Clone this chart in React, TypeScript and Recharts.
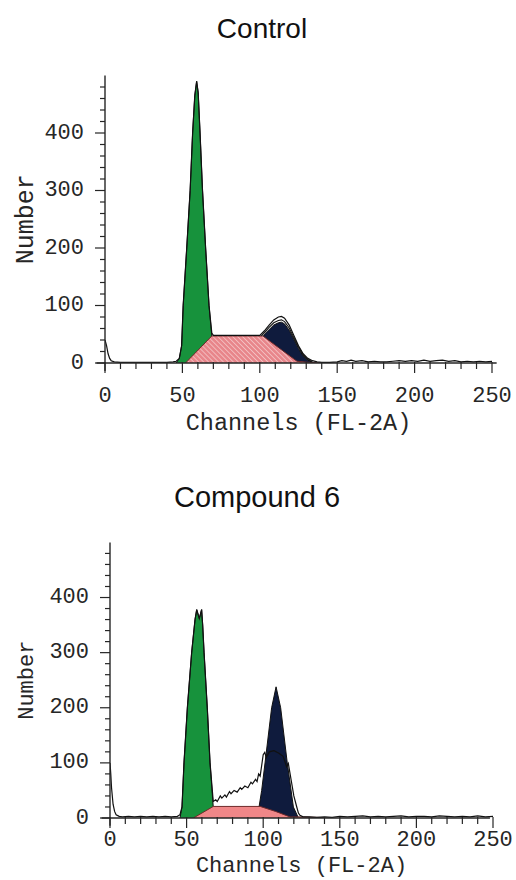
import { ComposedChart, Area, Line, XAxis, YAxis, ReferenceLine } from 'recharts'

// [channel, count] pairs
const controlHist = [
  [0, 40], [1, 30], [2, 16], [3, 8], [4, 4], [6, 2], [10, 1], [15, 1], [20, 1], [25, 1], [30, 1], [35, 1], [40, 1], [44, 2], [46, 3], [48, 8],
  [49.5, 30], [50.5, 100], [52.8, 200], [55, 300], [56.6, 400], [58, 465], [59.2, 490], [60.2, 470], [61.4, 400], [63, 300], [65, 200], [67.2, 100], [69, 52],
  [70, 48], [75, 48], [80, 48], [85, 48], [90, 48], [95, 48], [100, 48],
  [103, 56], [106, 66], [109, 75], [112, 80], [114, 81], [116, 78], [119, 66], [122, 48], [125, 30], [128, 16], [131, 8], [134, 4], [137, 2], [140, 1], [145, 1],
  [150, 2], [153, 4], [156, 3], [159, 5], [162, 3], [166, 4], [170, 2], [174, 3], [178, 2], [182, 2], [186, 3], [190, 4], [194, 3], [198, 4],
  [202, 3], [206, 5], [210, 3], [214, 4], [218, 5], [222, 3], [226, 4], [230, 2], [234, 3], [238, 2], [242, 3], [246, 2], [250, 3],
]
const controlFit = [
  [101, 47], [103, 53], [106, 62], [109, 70], [112, 74], [114, 75], [116, 72], [119, 61], [122, 44], [125, 28], [128, 14], [131, 6], [134, 2],
]
const controlG1 = [
  [46, 0], [48, 8], [49.5, 30], [50.5, 100], [52.8, 200], [55, 300], [56.6, 400], [58, 465], [59.2, 490], [60.2, 470],
  [61.4, 400], [63, 300], [65, 200], [67.2, 100], [69, 47], [71, 10], [72, 0],
]
const controlS = [[52, 0], [69, 47], [102, 47], [113, 25], [124, 3], [132, 1], [142, 0]]
const controlG2 = [
  [101, 40], [103, 50], [106, 58], [109, 66], [112, 70], [114, 71], [116, 68], [119, 57], [122, 41], [125, 25], [128, 12], [131, 5], [134, 1], [136, 0],
]

const c6Hist = [
  [0, 100], [0.5, 80], [1, 55], [2, 25], [3, 12], [4, 6], [6, 3], [8, 2], [12, 3], [16, 2], [20, 3], [24, 2], [28, 3], [32, 2], [36, 3], [40, 2], [44, 3],
  [45.7, 6], [47, 20], [48.3, 100], [50.5, 200], [53.3, 300], [55.5, 360], [56.6, 378], [58.3, 362], [59.8, 378], [60.5, 350], [61.4, 300], [63.5, 200], [65.3, 100], [67.4, 30],
  [69, 33], [70, 30], [72, 40], [73, 36], [75, 42], [76, 38], [78, 48], [79, 44], [81, 50], [83, 47], [85, 55], [86, 52], [88, 58], [90, 55], [92, 65], [93, 62],
  [95, 70], [96, 66], [97, 80], [98, 76], [99, 95], [100, 115], [101, 119], [102, 110], [104, 120], [107, 122], [110, 118], [113, 112],
  [115.3, 93], [116.4, 99], [117.5, 81], [118.6, 63], [120, 40], [121.9, 20], [123, 9], [124, 5], [126, 2], [130, 2], [135, 1], [140, 2], [145, 1],
  [150, 3], [155, 2], [160, 3], [165, 4], [170, 2], [175, 3], [180, 2], [185, 3], [190, 4], [195, 2], [200, 3], [205, 3], [210, 2], [215, 4],
  [220, 3], [225, 2], [230, 3], [235, 2], [240, 4], [245, 2], [250, 3],
]
const c6G1 = [
  [45.7, 0], [47, 20], [48.3, 100], [50.5, 200], [53.3, 300], [55.5, 360], [56.6, 378], [58.3, 362], [59.8, 378], [60.5, 350],
  [61.4, 300], [63.5, 200], [65.3, 100], [67.4, 20], [69, 5], [70, 0],
]
const c6S = [[54.4, 0], [67.4, 21], [98, 21], [108, 12], [117.5, 2], [125, 2], [137, 1], [140, 0]]
const c6G2 = [[97, 15], [99, 50], [101.2, 100], [105.5, 200], [108.4, 238], [111.4, 200], [115.7, 100], [119.7, 20], [123, 0]]

const xTicks = [0, 10, 20, 30, 40, 50, 60, 70, 80, 90, 100, 110, 120, 130, 140, 150, 160, 170, 180, 190, 200, 210, 220, 230, 240, 250]
const yTicks = [0, 20, 40, 60, 80, 100, 120, 140, 160, 180, 200, 220, 240, 260, 280, 300, 320, 340, 360, 380, 400, 420, 440, 460, 480]

const mono = '"Liberation Mono", "Courier New", monospace'
const ink = '#262626'

function mergeSeries(series: Record<string, number[][]>) {
  const rows = new Map<number, any>()
  for (const [key, pts] of Object.entries(series)) {
    for (const [ch, n] of pts) {
      const row = rows.get(ch) ?? { ch }
      row[key] = n
      rows.set(ch, row)
    }
  }
  return [...rows.values()].sort((a, b) => a.ch - b.ch)
}

const YTick = (p: any) => {
  const v = p.payload.value
  const major = v % 100 === 0
  return (
    <g>
      <line x1={p.x - (major ? 10 : 5)} x2={p.x} y1={p.y} y2={p.y} stroke={ink} strokeWidth={1.2} />
      {major && (
        <text x={p.x - 21} y={p.y} textAnchor="end" dominantBaseline="central" fontFamily={mono} fontSize={22} fill={ink}>
          {v}
        </text>
      )}
    </g>
  )
}

const makeXTick = (gap: number) => (p: any) => {
  const v = p.payload.value
  const major = v % 50 === 0
  return (
    <g>
      <line x1={p.x} x2={p.x} y1={p.y - 1} y2={p.y + (major ? 10 : 6)} stroke={ink} strokeWidth={1.2} />
      {major && (
        <text x={p.x} y={p.y + gap} textAnchor="middle" dominantBaseline="central" fontFamily={mono} fontSize={22} fill={ink}>
          {v}
        </text>
      )}
    </g>
  )
}

interface HistProps {
  rows: any[]
  hatched: boolean
  height: number
  top: number
  right: number
  bottom: number
  yWidth: number
  xHeight: number
  tickGap: number
  yTitleOffset: number
  yTitleSize: number
  xTitleOffset: number
  xTitleSize: number
  axisEnd: number
}

function Histogram(h: HistProps) {
  return (
    <ComposedChart width={516} height={h.height} data={h.rows} margin={{ top: h.top, right: h.right, bottom: h.bottom, left: 4 }}>
      <defs>
        <pattern id="hatch" width="3.5" height="3.5" patternUnits="userSpaceOnUse" patternTransform="rotate(-45)">
          <rect width="3.5" height="3.5" fill="#e8868b" />
          <line x1="0" y1="0" x2="0" y2="3.5" stroke="#fbe3e3" strokeWidth="1.1" />
        </pattern>
      </defs>
      <XAxis
        type="number"
        dataKey="ch"
        domain={[0, 250]}
        ticks={xTicks}
        interval={0}
        allowDataOverflow
        axisLine={false}
        tickLine={false}
        tickSize={0}
        tickMargin={0}
        height={h.xHeight}
        tick={makeXTick(h.tickGap)}
        label={{ value: 'Channels (FL-2A)', position: 'insideBottom', offset: h.xTitleOffset, fill: ink, fontSize: h.xTitleSize, fontFamily: mono }}
      />
      <YAxis
        type="number"
        domain={[0, 500]}
        ticks={yTicks}
        interval={0}
        allowDataOverflow
        axisLine={false}
        tickLine={false}
        tickSize={0}
        tickMargin={0}
        width={h.yWidth}
        tick={YTick}
        label={{ value: 'Number', angle: -90, position: 'insideLeft', offset: h.yTitleOffset, fill: ink, fontSize: h.yTitleSize, fontFamily: mono, style: { textAnchor: 'middle' } }}
      />
      <Area dataKey="g1" type="linear" fill="#17923c" fillOpacity={1} stroke="#111" strokeWidth={1} connectNulls dot={false} activeDot={false} isAnimationActive={false} />
      <Area dataKey="g2" type="linear" fill="#0f1b3d" fillOpacity={1} stroke="#111" strokeWidth={1} connectNulls dot={false} activeDot={false} isAnimationActive={false} />
      <Area dataKey="s" type="linear" fill={h.hatched ? 'url(#hatch)' : '#f08788'} fillOpacity={1} stroke="#6e2a2a" strokeWidth={1} connectNulls dot={false} activeDot={false} isAnimationActive={false} />
      <Line dataKey="fit" type="linear" stroke="#111" strokeWidth={1.1} connectNulls dot={false} activeDot={false} isAnimationActive={false} />
      <Line dataKey="hist" type="linear" stroke="#111" strokeWidth={1.2} connectNulls dot={false} activeDot={false} isAnimationActive={false} />
      <ReferenceLine segment={[{ x: -5.5, y: 0 }, { x: h.axisEnd, y: 0 }]} stroke={ink} strokeWidth={1.4} ifOverflow="visible" />
      <ReferenceLine segment={[{ x: 0, y: -14 }, { x: 0, y: 500 }]} stroke={ink} strokeWidth={1.4} ifOverflow="visible" />
    </ComposedChart>
  )
}

const titleStyle = {
  position: 'absolute' as const,
  fontFamily: '"Liberation Sans", Arial, sans-serif',
  color: '#111',
  lineHeight: 1,
  whiteSpace: 'nowrap' as const,
  transform: 'translateX(-50%)',
}

export default function App() {
  const controlRows = mergeSeries({ hist: controlHist, fit: controlFit, g1: controlG1, s: controlS, g2: controlG2 })
  const c6Rows = mergeSeries({ hist: c6Hist, g1: c6G1, s: c6S, g2: c6G2 })
  return (
    <div style={{ position: 'absolute', left: 0, top: 0, width: 516, height: 880, background: '#fff', overflow: 'hidden' }}>
      <div style={{ ...titleStyle, left: 262, top: 15, fontSize: 28 }}>Control</div>
      <div style={{ position: 'absolute', left: 0, top: 60 }}>
        <Histogram
          rows={controlRows}
          hatched
          height={380}
          top={15.5}
          right={24}
          bottom={2}
          yWidth={101}
          xHeight={75}
          tickGap={33}
          yTitleOffset={20}
          yTitleSize={25}
          xTitleOffset={8}
          xTitleSize={23.5}
          axisEnd={253}
        />
      </div>
      <div style={{ ...titleStyle, left: 257, top: 483, fontSize: 29 }}>Compound 6</div>
      <div style={{ position: 'absolute', left: 0, top: 520 }}>
        <Histogram
          rows={c6Rows}
          hatched={false}
          height={360}
          top={22.4}
          right={23}
          bottom={2}
          yWidth={106}
          xHeight={60}
          tickGap={22.5}
          yTitleOffset={21}
          yTitleSize={22}
          xTitleOffset={6}
          xTitleSize={22}
          axisEnd={248}
        />
      </div>
    </div>
  )
}
